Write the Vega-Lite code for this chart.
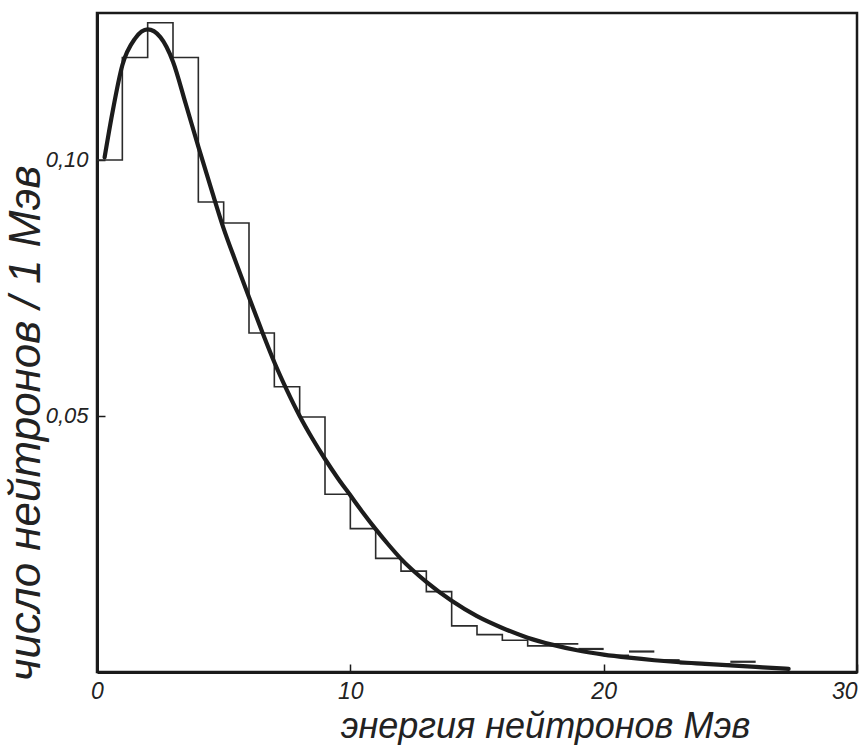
{
  "$schema": "https://vega.github.io/schema/vega-lite/v6.json",
  "width": 760,
  "height": 659,
  "autosize": "none",
  "padding": {"left": 97, "top": 13, "right": 8, "bottom": 73},
  "background": "white",
  "config": {
    "view": {"stroke": "#1a1a1a", "strokeWidth": 2.5},
    "axis": {"grid": false}
  },
  "datasets": {
    "hist": [
      {"energy": 0, "count": 0.100},
      {"energy": 1, "count": 0.120},
      {"energy": 2, "count": 0.1268},
      {"energy": 3, "count": 0.120},
      {"energy": 4, "count": 0.0918},
      {"energy": 5, "count": 0.0877},
      {"energy": 6, "count": 0.0662},
      {"energy": 7, "count": 0.0557},
      {"energy": 8, "count": 0.0498},
      {"energy": 9, "count": 0.0347},
      {"energy": 10, "count": 0.0280},
      {"energy": 11, "count": 0.0222},
      {"energy": 12, "count": 0.0197},
      {"energy": 13, "count": 0.0157},
      {"energy": 14, "count": 0.0090},
      {"energy": 15, "count": 0.0073},
      {"energy": 16, "count": 0.0062},
      {"energy": 17, "count": 0.0051},
      {"energy": 18, "count": 0.0055},
      {"energy": 19, "count": 0.0055}
    ],
    "tail": [
      {"energy": 19, "energy_end": 20, "count": 0.0045},
      {"energy": 20, "energy_end": 21, "count": 0.0032},
      {"energy": 21, "energy_end": 22, "count": 0.0040},
      {"energy": 22, "energy_end": 23, "count": 0.0023},
      {"energy": 23, "energy_end": 24, "count": 0.0017},
      {"energy": 24, "energy_end": 25, "count": 0.0015},
      {"energy": 25, "energy_end": 26, "count": 0.0020}
    ],
    "curve": [
      {"energy": 0.3, "count": 0.1005},
      {"energy": 0.6, "count": 0.1090},
      {"energy": 1.0, "count": 0.1185},
      {"energy": 1.5, "count": 0.1237},
      {"energy": 2.0, "count": 0.1255},
      {"energy": 2.5, "count": 0.1240},
      {"energy": 3.0, "count": 0.1192},
      {"energy": 3.5, "count": 0.1110},
      {"energy": 4.0, "count": 0.1026},
      {"energy": 4.5, "count": 0.0945},
      {"energy": 5.0, "count": 0.0866},
      {"energy": 5.5, "count": 0.0798},
      {"energy": 6.0, "count": 0.0732},
      {"energy": 6.5, "count": 0.0667},
      {"energy": 7.0, "count": 0.0605},
      {"energy": 7.5, "count": 0.0550},
      {"energy": 8.0, "count": 0.0500},
      {"energy": 8.5, "count": 0.0456},
      {"energy": 9.0, "count": 0.0416},
      {"energy": 9.5, "count": 0.0379},
      {"energy": 10.0, "count": 0.0345},
      {"energy": 10.5, "count": 0.0311},
      {"energy": 11.0, "count": 0.0279},
      {"energy": 11.5, "count": 0.0249},
      {"energy": 12.0, "count": 0.0221},
      {"energy": 13.0, "count": 0.0176},
      {"energy": 14.0, "count": 0.0139},
      {"energy": 15.0, "count": 0.0109},
      {"energy": 16.0, "count": 0.0086},
      {"energy": 17.0, "count": 0.0067},
      {"energy": 18.0, "count": 0.0053},
      {"energy": 19.0, "count": 0.0042},
      {"energy": 20.0, "count": 0.0034},
      {"energy": 21.0, "count": 0.0028},
      {"energy": 22.0, "count": 0.0023},
      {"energy": 23.0, "count": 0.0019},
      {"energy": 24.0, "count": 0.0016},
      {"energy": 25.0, "count": 0.0013},
      {"energy": 26.0, "count": 0.0010},
      {"energy": 27.0, "count": 0.0007},
      {"energy": 27.3, "count": 0.0006}
    ]
  },
  "layer": [
    {
      "data": {"name": "hist"},
      "mark": {"type": "line", "interpolate": "step-after", "stroke": "#2b2b2b", "strokeWidth": 1.6},
      "encoding": {
        "x": {
          "field": "energy", "type": "quantitative",
          "scale": {"domain": [0, 30], "nice": false, "zero": false},
          "axis": {
            "title": "энергия нейтронов  Мэв",
            "values": [0, 10, 20, 30],
            "domainColor": "#1a1a1a", "domainWidth": 3,
            "tickColor": "#1a1a1a", "tickWidth": 1.5, "tickSize": -8,
            "labelFont": "Liberation Sans", "labelFontStyle": "italic", "labelFontSize": 23, "labelColor": "#222",
            "labelPadding": 16,
            "labelAlign": {"condition": {"test": "datum.value == 30", "value": "right"}, "value": "center"},
            "titleFont": "Liberation Sans", "titleFontStyle": "italic", "titleFontWeight": "normal",
            "titleFontSize": 36, "titleColor": "#222",
            "titleX": 448, "titleY": 65, "titleAlign": "center", "titleBaseline": "alphabetic"
          }
        },
        "y": {
          "field": "count", "type": "quantitative",
          "scale": {"domain": [0, 0.1287], "nice": false, "zero": false},
          "axis": {
            "title": "число нейтронов / 1 Мэв",
            "values": [0.05, 0.1],
            "labelExpr": "replace(format(datum.value, '.2f'), '.', ',')",
            "domainColor": "#1a1a1a", "domainWidth": 3,
            "tickColor": "#1a1a1a", "tickWidth": 1.5, "tickSize": -8,
            "labelFont": "Liberation Sans", "labelFontStyle": "italic", "labelFontSize": 22, "labelColor": "#222",
            "labelPadding": 17,
            "titleFont": "Liberation Sans", "titleFontStyle": "italic", "titleFontWeight": "normal",
            "titleFontSize": 44, "titleColor": "#222",
            "titleAngle": -90, "titleX": -71, "titleY": 410, "titleAlign": "center", "titleBaseline": "middle"
          }
        }
      }
    },
    {
      "data": {"name": "tail"},
      "mark": {"type": "rule", "stroke": "#2b2b2b", "strokeWidth": 2.2},
      "encoding": {
        "x": {"field": "energy", "type": "quantitative"},
        "x2": {"field": "energy_end"},
        "y": {"field": "count", "type": "quantitative"}
      }
    },
    {
      "data": {"name": "curve"},
      "mark": {"type": "line", "interpolate": "monotone", "stroke": "#1c1c1c", "strokeWidth": 4.2, "strokeCap": "round"},
      "encoding": {
        "x": {"field": "energy", "type": "quantitative"},
        "y": {"field": "count", "type": "quantitative"}
      }
    }
  ]
}
